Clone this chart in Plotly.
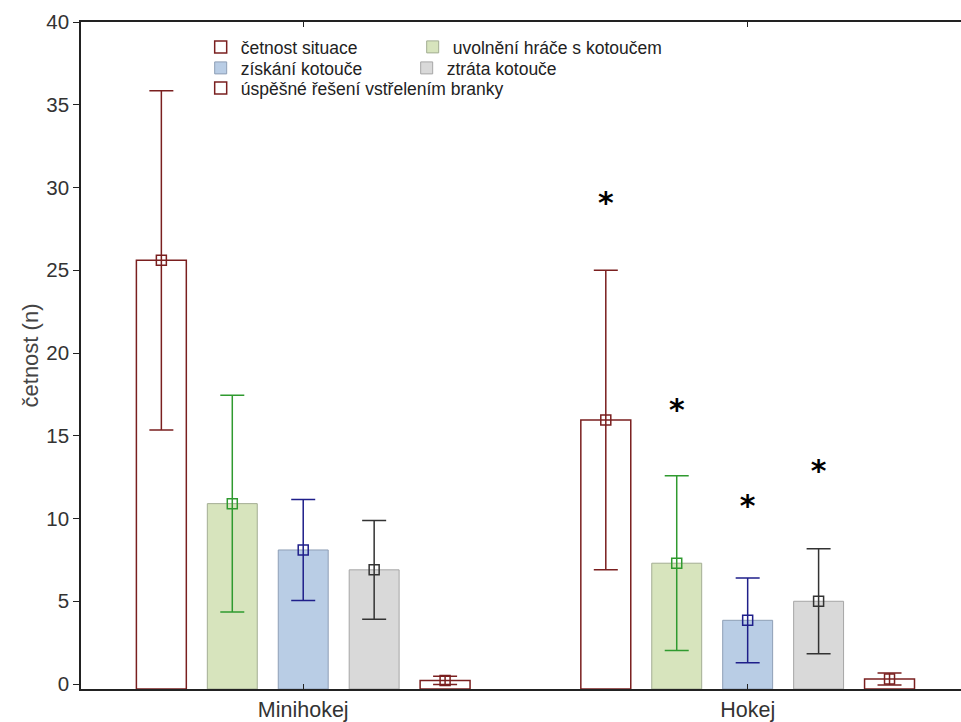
import plotly.graph_objects as go

CATEGORIES = ["Minihokej", "Hokej"]
SERIES = [
    "četnost situace",
    "uvolnění hráče s kotoučem",
    "získání kotouče",
    "ztráta kotouče",
    "úspěšné řešení vstřelením branky",
]
MEANS = [
    [25.6, 15.95],
    [10.9, 7.3],
    [8.1, 3.85],
    [6.9, 5.0],
    [0.22, 0.3],
]
ERRORS = [
    [10.25, 9.05],
    [6.55, 5.28],
    [3.05, 2.56],
    [2.98, 3.17],
    [0.25, 0.36],
]
SIGNIF_Y = [28.9, 16.4, 10.6, 12.7, None]  # asterisk height for Hokej

BAR_FILL = ["rgba(255,255,255,0)", "#d7e4bd", "#b9cde5", "#d9d9d9", "rgba(255,255,255,0)"]
BAR_LINE = ["#7a1f1f", "#a3ad93", "#8e9fb6", "#a6a6a6", "#7a1f1f"]
ERR_COLOR = ["#7a1f1f", "#2f9a2f", "#1f1f8a", "#333333", "#7a1f1f"]
LEGENDS = ["legend", "legend", "legend2", "legend2", "legend3"]
LEGEND_W = [167, None, 161, None, None]

Y_MIN, Y_MAX = -0.3, 40.0

fig = go.Figure()
for i, name in enumerate(SERIES):
    extra = {"legendwidth": LEGEND_W[i]} if LEGEND_W[i] else {}
    fig.add_trace(go.Bar(
        x=CATEGORIES, y=[m - Y_MIN for m in MEANS[i]], base=Y_MIN,
        name=name, offsetgroup=name, legend=LEGENDS[i],
        marker=dict(color=BAR_FILL[i], line=dict(color=BAR_LINE[i], width=1.5 if i in (0, 4) else 1)),
        hoverinfo="skip", **extra,
    ))
for i, name in enumerate(SERIES):
    fig.add_trace(go.Scatter(
        x=CATEGORIES, y=MEANS[i], mode="markers", offsetgroup=name, showlegend=False,
        marker=dict(symbol="square-open", size=10, color=ERR_COLOR[i], line=dict(width=1.5, color=ERR_COLOR[i])),
        error_y=dict(type="data", array=ERRORS[i], color=ERR_COLOR[i], thickness=1.5, width=12),
    ))
for i, name in enumerate(SERIES):
    fig.add_trace(go.Scatter(
        x=[CATEGORIES[1]], y=[SIGNIF_Y[i]], mode="text", text=["*" if SIGNIF_Y[i] is not None else ""],
        offsetgroup=name, showlegend=False, textposition="middle center",
        textfont=dict(family="DejaVu Sans", size=30, color="black", weight="bold"),
    ))

leg_common = dict(orientation="h", xanchor="left", yanchor="middle", x=0.136,
                  font=dict(size=17.5, color="#222", family="Liberation Sans, Arial"),
                  bgcolor="rgba(0,0,0,0)", itemwidth=30, tracegroupgap=0)

fig.update_layout(
    width=961, height=722,
    margin=dict(l=81, r=0, t=22, b=33, pad=0),
    plot_bgcolor="white", paper_bgcolor="white",
    barmode="group", bargap=0.202, bargroupgap=0.296,
    scattermode="group", scattergap=0.202,
    font=dict(family="Liberation Sans, Arial", color="#333"),
    legend=dict(y=0.9625, **leg_common),
    legend2=dict(y=0.931, **leg_common),
    legend3=dict(y=0.901, **leg_common),
    xaxis=dict(range=[-0.5, 1.48], showline=True, linecolor="#222", linewidth=1.5, mirror="ticks",
               ticks="inside", ticklen=5, tickcolor="#222", showgrid=False,
               tickfont=dict(size=21.5, color="#333")),
    yaxis=dict(range=[Y_MIN, Y_MAX], showline=True, linecolor="#222", linewidth=1.5, mirror=False,
               ticks="outside", ticklen=6, tickcolor="#222", showgrid=False, zeroline=False,
               tickvals=[0, 5, 10, 15, 20, 25, 30, 35, 40], tickfont=dict(size=20.5, color="#333"),
               title=dict(text="četnost (n)", font=dict(size=22, color="#444"), standoff=2)),
)

fig.write_html("out.html")
